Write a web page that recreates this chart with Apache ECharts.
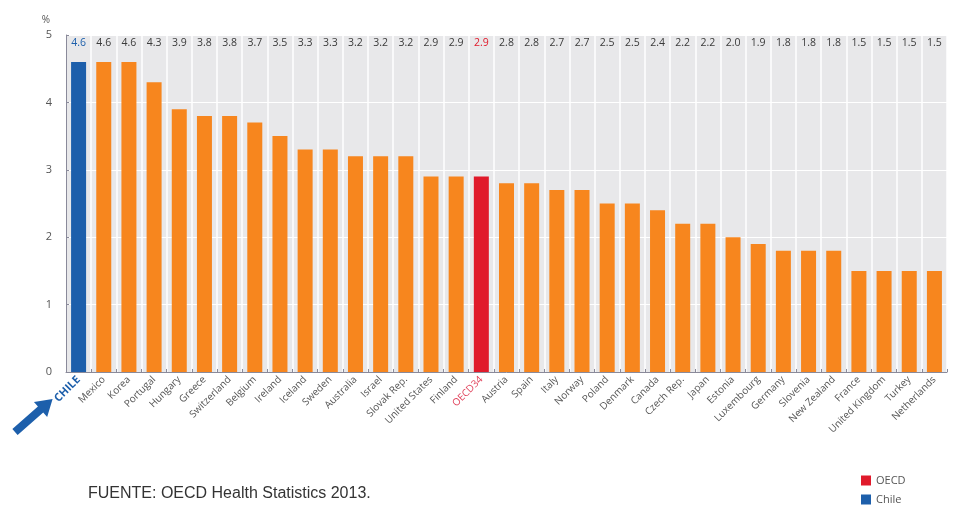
<!DOCTYPE html>
<html>
<head>
<meta charset="utf-8">
<script src="https://cdn.jsdelivr.net/npm/echarts@6/dist/echarts.min.js"></script>
<style>
  html, body { margin: 0; padding: 0; background: #ffffff; }
  #chart { width: 961px; height: 512px; }
</style>
</head>
<body>
<div id="chart"></div>
<script>
// Categories (countries) in ranking order
const countries = ['CHILE','Mexico','Korea','Portugal','Hungary','Greece','Switzerland','Belgium','Ireland','Iceland','Sweden','Australia','Israel','Slovak Rep.','United States','Finland','OECD34','Austria','Spain','Italy','Norway','Poland','Denmark','Canada','Czech Rep.','Japan','Estonia','Luxembourg','Germany','Slovenia','New Zealand','France','United Kingdom','Turkey','Netherlands'];
// Percentage values
const values = [4.6,4.6,4.6,4.3,3.9,3.8,3.8,3.7,3.5,3.3,3.3,3.2,3.2,3.2,2.9,2.9,2.9,2.8,2.8,2.7,2.7,2.5,2.5,2.4,2.2,2.2,2.0,1.9,1.8,1.8,1.8,1.5,1.5,1.5,1.5];
const yTicks = [0,1,2,3,4,5];
const highlightChile = 'CHILE';
const highlightOecd = 'OECD34';

const ORANGE = '#f7861e';
const BLUE = '#1d5fab';
const RED = '#e01a2b';

function pick(pred) {
  return values.map((v, i) => pred(countries[i]) ? v : null);
}

const chart = echarts.init(document.getElementById('chart'));
chart.setOption({
  animation: false,
  backgroundColor: '#ffffff',
  grid: { left: 66, right: 14, top: 35, bottom: 140, show: true, backgroundColor: '#e8e8ea', borderWidth: 0 },
  legend: {
    data: ['OECD', 'Chile'],
    orient: 'vertical',
    left: 856, top: 470,
    itemWidth: 10, itemHeight: 10, itemGap: 8,
    icon: 'rect',
    textStyle: { fontFamily: 'Open Sans', fontSize: 11, color: '#555' }
  },
  xAxis: [{
    type: 'category',
    data: countries,
    axisLine: { lineStyle: { color: '#8a8a9a', width: 1 } },
    axisTick: { show: true, inside: true, length: 3, lineStyle: { color: '#8a8a9a' } },
    splitLine: { show: true, interval: 0, lineStyle: { color: '#ffffff', width: 1.5 } },
    axisLabel: {
      interval: 0, rotate: 45, margin: 6,
      fontFamily: 'Open Sans', fontSize: 10, fontWeight: 'normal',
      formatter: (v) => v === highlightChile ? '{c|' + v + '}' : (v === highlightOecd ? '{o|' + v + '}' : '{n|' + v + '}'),
      rich: {
        c: { color: BLUE, fontWeight: 'bold', fontSize: 11, fontFamily: 'Open Sans' },
        o: { color: '#e0405a', fontWeight: 'normal', fontSize: 10, fontFamily: 'Open Sans' },
        n: { color: '#555', fontWeight: 'normal', fontSize: 10, fontFamily: 'Open Sans' }
      }
    }
  }, {
    type: 'category',
    position: 'top',
    data: values.map(v => v.toFixed(1)),
    axisLine: { show: false },
    axisTick: { show: false },
    axisLabel: {
      inside: true, interval: 0, margin: 3,
      fontFamily: 'Open Sans', fontSize: 10.5,
      color: (v, i) => countries[i] === highlightChile ? BLUE : (countries[i] === highlightOecd ? RED : '#3a3a3a')
    }
  }],
  yAxis: {
    type: 'value',
    min: yTicks[0], max: yTicks[yTicks.length - 1], interval: 1,
    name: '%', nameLocation: 'end', nameGap: 10,
    nameTextStyle: { fontFamily: 'Open Sans', fontSize: 10, color: '#555', align: 'right', padding: [0, 16, 0, 0] },
    axisLine: { show: true, lineStyle: { color: '#8a8a9a' } },
    axisTick: { show: true, inside: true, length: 3, lineStyle: { color: '#8a8a9a' } },
    splitLine: { show: true, lineStyle: { color: '#ffffff', width: 1.2 } },
    axisLabel: { fontFamily: 'Open Sans', fontSize: 11, color: '#555', margin: 14 }
  },
  series: [
    { name: 'Countries', type: 'bar', stack: 'all', barWidth: 15, data: pick(c => c !== highlightChile && c !== highlightOecd), itemStyle: { color: ORANGE } },
    { name: 'OECD', type: 'bar', stack: 'all', barWidth: 15, data: pick(c => c === highlightOecd), itemStyle: { color: RED } },
    { name: 'Chile', type: 'bar', stack: 'all', barWidth: 15, data: pick(c => c === highlightChile), itemStyle: { color: BLUE } }
  ],
  graphic: [
    {
      type: 'polygon',
      x: 15, y: 432, rotation: 0.72,
      shape: { points: [[0,-4],[34,-4],[34,-10],[50,0],[34,10],[34,4],[0,4]] },
      style: { fill: BLUE }
    },
    {
      type: 'text', left: 88, top: 486,
      style: { text: 'FUENTE: OECD Health Statistics 2013.', font: '16px "Liberation Sans", Arial, sans-serif', fill: '#333' }
    }
  ]
});
</script>
</body>
</html>
